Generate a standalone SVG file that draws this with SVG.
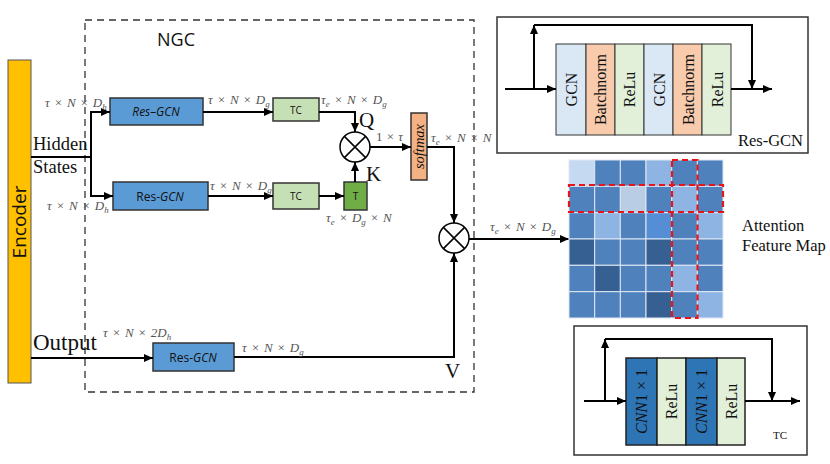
<svg xmlns="http://www.w3.org/2000/svg" width="830" height="464" viewBox="0 0 830 464">
<style>
.m{font-family:"Liberation Serif",serif;font-style:italic;font-size:13px;fill:#555;word-spacing:1px}
.m tspan.b{font-size:9px}
.s{font-family:"Liberation Serif",serif;fill:#111}
.sans{font-family:"Open Sans","Liberation Sans",sans-serif;fill:#111}
.ln{fill:none;stroke:#000;stroke-width:2}
.blue{fill:#5B9BD5;stroke:#333;stroke-width:1.5}
.tc{fill:#C5E0B4;stroke:#333;stroke-width:1.5}
.cell{stroke:#dfe8f3;stroke-width:1}
.red{fill:none;stroke:#e8141c;stroke-width:2.2;stroke-dasharray:6,4}
</style>
<defs>
<marker id="ar" markerWidth="9" markerHeight="8" refX="9" refY="4" orient="auto" markerUnits="userSpaceOnUse">
<path d="M0,0 L9,4 L0,8 z" fill="#000"/>
</marker>
</defs>
<rect width="830" height="464" fill="#fff"/>

<g id="encoder">
<rect x="8" y="60" width="23" height="323" fill="#FFC000" stroke="#555" stroke-width="1"/>
<text class="sans" transform="translate(26,222) rotate(-90)" text-anchor="middle" font-size="19">Encoder</text>
</g>

<g id="ngc">
<rect x="85" y="20" width="389" height="372" fill="none" stroke="#333" stroke-width="1.3" stroke-dasharray="7,5"/>
<text class="sans" x="176" y="46" text-anchor="middle" font-size="18">NGC</text>
</g>

<g id="resgcn-top">
<rect class="blue" x="110" y="98" width="93" height="27"/>
<text class="sans" x="156" y="116" text-anchor="middle" font-size="12" font-style="italic">Res–GCN</text>
</g>
<g id="resgcn-mid">
<rect class="blue" x="113" y="182" width="95" height="28"/>
<text class="sans" x="160" y="201" text-anchor="middle" font-size="12">Res-<tspan font-style="italic">GCN</tspan></text>
</g>
<g id="resgcn-bot">
<rect class="blue" x="153" y="343" width="81" height="28"/>
<text class="sans" x="193" y="362" text-anchor="middle" font-size="12">Res-<tspan font-style="italic">GCN</tspan></text>
</g>
<g id="tc-top">
<rect class="tc" x="273" y="98" width="46" height="23"/>
<text class="sans" x="296" y="114" text-anchor="middle" font-size="10">TC</text>
</g>
<g id="tc-bot">
<rect class="tc" x="273" y="183" width="46" height="26"/>
<text class="sans" x="296" y="200" text-anchor="middle" font-size="10">TC</text>
</g>
<g id="t">
<rect x="344" y="182" width="23" height="28" fill="#70AD47" stroke="#333" stroke-width="1.5"/>
<text class="sans" x="355.5" y="200" text-anchor="middle" font-size="10">T</text>
</g>
<g id="softmax">
<rect x="411" y="113" width="16" height="67" fill="#F4B183" stroke="#333" stroke-width="1.5"/>
<text class="s" transform="translate(423.5,146.5) rotate(-90)" text-anchor="middle" font-size="14.5" font-style="italic">softmax</text>
</g>
<g id="mul1">
<circle cx="355" cy="147" r="15" fill="#fff" stroke="#000" stroke-width="1.5"/>
<path d="M344.4,136.4 L365.6,157.6 M365.6,136.4 L344.4,157.6" stroke="#000" stroke-width="1.5"/>
</g>
<g id="mul2">
<circle cx="454" cy="238" r="15" fill="#fff" stroke="#000" stroke-width="1.5"/>
<path d="M443.4,227.4 L464.6,248.6 M464.6,227.4 L443.4,248.6" stroke="#000" stroke-width="1.5"/>
</g>

<g id="connectors">
<path class="ln" d="M31,157 H91"/>
<path class="ln" d="M91,157 V112 H110" marker-end="url(#ar)"/>
<path class="ln" d="M91,157 V196 H113" marker-end="url(#ar)"/>
<path class="ln" d="M203,112 H273" marker-end="url(#ar)"/>
<path class="ln" d="M208,196 H273" marker-end="url(#ar)"/>
<path class="ln" d="M319,112 H355 V132" marker-end="url(#ar)"/>
<path class="ln" d="M319,196 H344" marker-end="url(#ar)"/>
<path class="ln" d="M355,182 V162" marker-end="url(#ar)"/>
<path class="ln" d="M370,147 H411" marker-end="url(#ar)"/>
<path class="ln" d="M427,147 H454 V223" marker-end="url(#ar)"/>
<path class="ln" d="M31,358 H153" stroke-width="1.6" marker-end="url(#ar)"/>
<path class="ln" d="M234,357 H454 V253" marker-end="url(#ar)"/>
<path class="ln" d="M469,239 H569" marker-end="url(#ar)"/>
</g>

<g id="labels">
<text class="s" x="33" y="150" font-size="18.5">Hidden</text>
<text class="s" x="33" y="173" font-size="18.5">States</text>
<text class="s" x="33" y="350" font-size="23">Output</text>
<text class="s" x="359" y="127" font-size="21">Q</text>
<text class="s" x="366" y="181" font-size="21">K</text>
<text class="s" x="445" y="378" font-size="21">V</text>
<text class="m" x="45" y="107">τ × N × D<tspan class="b" dy="3">h</tspan></text>
<text class="m" x="47" y="210">τ × N × D<tspan class="b" dy="3">h</tspan></text>
<text class="m" x="208" y="104">τ × N × D<tspan class="b" dy="3">g</tspan></text>
<text class="m" x="210" y="190">τ × N × D<tspan class="b" dy="3">g</tspan></text>
<text class="m" x="321" y="104">τ<tspan class="b" dy="3">e</tspan><tspan dy="-3"> × N × D</tspan><tspan class="b" dy="3">g</tspan></text>
<text class="m" x="376" y="141" style="font-style:normal">1 × <tspan style="font-style:italic">τ</tspan></text>
<text class="m" x="431" y="142">τ<tspan class="b" dy="3">e</tspan><tspan dy="-3"> × N × N</tspan></text>
<text class="m" x="326" y="222">τ<tspan class="b" dy="3">e</tspan><tspan dy="-3"> × D</tspan><tspan class="b" dy="3">g</tspan><tspan dy="-3"> × N</tspan></text>
<text class="m" x="490" y="231">τ<tspan class="b" dy="3">e</tspan><tspan dy="-3"> × N × D</tspan><tspan class="b" dy="3">g</tspan></text>
<text class="m" x="103" y="337">τ × N × 2D<tspan class="b" dy="3">h</tspan></text>
<text class="m" x="242" y="352">τ × N × D<tspan class="b" dy="3">g</tspan></text>
</g>

<g id="resgcn-detail">
<rect x="497" y="17" width="311" height="136" fill="#fff" stroke="#333" stroke-width="1.5"/>
<rect x="556" y="44" width="30" height="91" fill="#DAE8F5" stroke="#333"/>
<rect x="586" y="44" width="29" height="91" fill="#F8CBAD" stroke="#333"/>
<rect x="615" y="44" width="29" height="91" fill="#E2F0D9" stroke="#333"/>
<rect x="644" y="44" width="29" height="91" fill="#DAE8F5" stroke="#333"/>
<rect x="673" y="44" width="29" height="91" fill="#F8CBAD" stroke="#333"/>
<rect x="702" y="44" width="29" height="91" fill="#E2F0D9" stroke="#333"/>
<text class="s" font-size="16" text-anchor="middle" transform="translate(576.5,89.5) rotate(-90)">GCN</text>
<text class="s" font-size="16" text-anchor="middle" transform="translate(605.5,89.5) rotate(-90)">Batchnorm</text>
<text class="s" font-size="16" text-anchor="middle" transform="translate(634.5,89.5) rotate(-90)">ReLu</text>
<text class="s" font-size="16" text-anchor="middle" transform="translate(664.5,89.5) rotate(-90)">GCN</text>
<text class="s" font-size="16" text-anchor="middle" transform="translate(693.5,89.5) rotate(-90)">Batchnorm</text>
<text class="s" font-size="16" text-anchor="middle" transform="translate(722.5,89.5) rotate(-90)">ReLu</text>
<path class="ln" d="M505,89 H556" marker-end="url(#ar)"/>
<path class="ln" d="M534,89 V25" marker-end="url(#ar)"/>
<path class="ln" d="M534,25 H752 V89" marker-end="url(#ar)"/>
<path class="ln" d="M731,89 H772" marker-end="url(#ar)"/>
<text class="s" x="803" y="146" text-anchor="end" font-size="16.5">Res-GCN</text>
</g>

<g id="feature-map">
<g class="cell">
<rect x="569" y="160" width="25.7" height="26.3" fill="#C5D9F1"/>
<rect x="594.7" y="160" width="25.7" height="26.3" fill="#4F81BD"/>
<rect x="620.3" y="160" width="25.7" height="26.3" fill="#4F81BD"/>
<rect x="646" y="160" width="25.7" height="26.3" fill="#8EB4E3"/>
<rect x="671.7" y="160" width="25.7" height="26.3" fill="#4F81BD"/>
<rect x="697.3" y="160" width="25.7" height="26.3" fill="#4F81BD"/>

<rect x="569" y="186.3" width="25.7" height="26.3" fill="#4F81BD"/>
<rect x="594.7" y="186.3" width="25.7" height="26.3" fill="#4F81BD"/>
<rect x="620.3" y="186.3" width="25.7" height="26.3" fill="#B9CDE5"/>
<rect x="646" y="186.3" width="25.7" height="26.3" fill="#4F81BD"/>
<rect x="671.7" y="186.3" width="25.7" height="26.3" fill="#8EB4E3"/>
<rect x="697.3" y="186.3" width="25.7" height="26.3" fill="#4F81BD"/>

<rect x="569" y="212.7" width="25.7" height="26.3" fill="#4F81BD"/>
<rect x="594.7" y="212.7" width="25.7" height="26.3" fill="#8EB4E3"/>
<rect x="620.3" y="212.7" width="25.7" height="26.3" fill="#4F81BD"/>
<rect x="646" y="212.7" width="25.7" height="26.3" fill="#558ED5"/>
<rect x="671.7" y="212.7" width="25.7" height="26.3" fill="#4F81BD"/>
<rect x="697.3" y="212.7" width="25.7" height="26.3" fill="#8EB4E3"/>

<rect x="569" y="239" width="25.7" height="26.3" fill="#376092"/>
<rect x="594.7" y="239" width="25.7" height="26.3" fill="#4F81BD"/>
<rect x="620.3" y="239" width="25.7" height="26.3" fill="#4F81BD"/>
<rect x="646" y="239" width="25.7" height="26.3" fill="#376092"/>
<rect x="671.7" y="239" width="25.7" height="26.3" fill="#4F81BD"/>
<rect x="697.3" y="239" width="25.7" height="26.3" fill="#4F81BD"/>

<rect x="569" y="265.3" width="25.7" height="26.3" fill="#4F81BD"/>
<rect x="594.7" y="265.3" width="25.7" height="26.3" fill="#376092"/>
<rect x="620.3" y="265.3" width="25.7" height="26.3" fill="#4F81BD"/>
<rect x="646" y="265.3" width="25.7" height="26.3" fill="#4F81BD"/>
<rect x="671.7" y="265.3" width="25.7" height="26.3" fill="#8EB4E3"/>
<rect x="697.3" y="265.3" width="25.7" height="26.3" fill="#4F81BD"/>

<rect x="569" y="291.7" width="25.7" height="26.3" fill="#4F81BD"/>
<rect x="594.7" y="291.7" width="25.7" height="26.3" fill="#4F81BD"/>
<rect x="620.3" y="291.7" width="25.7" height="26.3" fill="#4F81BD"/>
<rect x="646" y="291.7" width="25.7" height="26.3" fill="#376092"/>
<rect x="671.7" y="291.7" width="25.7" height="26.3" fill="#4F81BD"/>
<rect x="697.3" y="291.7" width="25.7" height="26.3" fill="#8EB4E3"/>
</g>
<rect class="red" x="569" y="185" width="154" height="27"/>
<rect class="red" x="672" y="160" width="25.5" height="158"/>
<text class="s" x="742" y="231" font-size="16.5">Attention</text>
<text class="s" x="742" y="251" font-size="16.5">Feature Map</text>
</g>

<g id="tc-detail">
<rect x="574" y="326" width="233" height="129" fill="#fff" stroke="#333" stroke-width="1.5"/>
<rect x="626" y="358" width="31" height="87" fill="#2E75B6" stroke="#222" stroke-width="1.5"/>
<rect x="657" y="358" width="29" height="87" fill="#E2F0D9" stroke="#222" stroke-width="1.5"/>
<rect x="686" y="358" width="31" height="87" fill="#2E75B6" stroke="#222" stroke-width="1.5"/>
<rect x="717" y="358" width="28" height="87" fill="#E2F0D9" stroke="#222" stroke-width="1.5"/>
<text class="s" font-size="16" text-anchor="middle" transform="translate(647,401.5) rotate(-90)"><tspan font-style="italic">CNN</tspan>1 × 1</text>
<text class="s" font-size="16" text-anchor="middle" transform="translate(677,401.5) rotate(-90)">ReLu</text>
<text class="s" font-size="16" text-anchor="middle" transform="translate(707,401.5) rotate(-90)"><tspan font-style="italic">CNN</tspan>1 × 1</text>
<text class="s" font-size="16" text-anchor="middle" transform="translate(737,401.5) rotate(-90)">ReLu</text>
<path class="ln" d="M584,401 H626" marker-end="url(#ar)"/>
<path class="ln" d="M605,401 V339" marker-end="url(#ar)"/>
<path class="ln" d="M605,339 H772 V401" marker-end="url(#ar)"/>
<path class="ln" d="M745,401 H800" marker-end="url(#ar)"/>
<text class="s" x="773" y="439" font-size="11">TC</text>
</g>
</svg>
